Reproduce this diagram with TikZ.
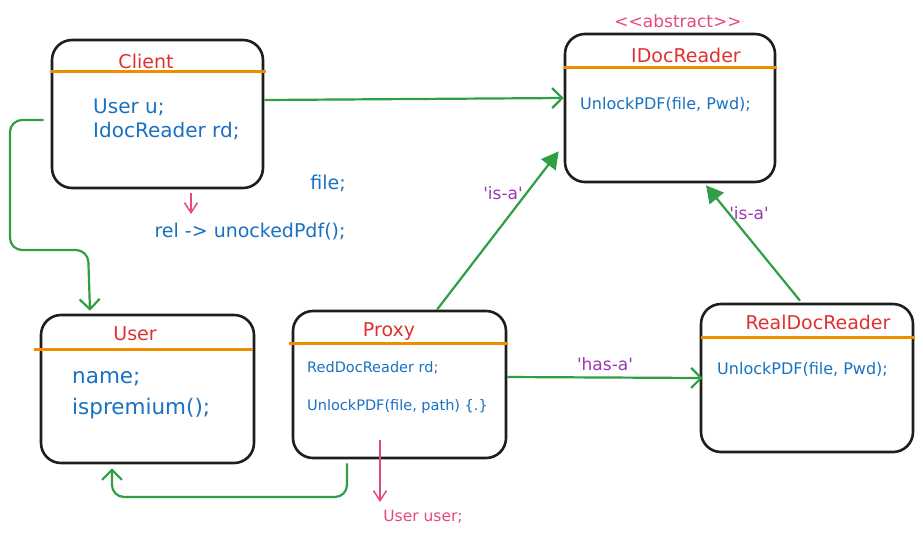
\documentclass[tikz,border=0pt]{standalone}
\usepackage{fontspec}
\setmainfont{DejaVu Sans}[Ligatures=TeXOff]
\usetikzlibrary{arrows.meta}
\definecolor{cls}{HTML}{1E1E1E}
\definecolor{ttl}{HTML}{E03131}
\definecolor{body}{HTML}{1971C2}
\definecolor{sep}{HTML}{F08C00}
\definecolor{link}{HTML}{2F9E44}
\definecolor{rel}{HTML}{9C36B5}
\definecolor{note}{HTML}{E64980}
\tikzset{
  classbox/.style={draw=cls, line width=2.6pt, rounded corners=20pt, inner sep=0pt},
  divider/.style={draw=sep, line width=3pt},
  title/.style={text=ttl, font=\fontsize{19}{20}\selectfont},
  member/.style={text=body, anchor=west, inner sep=0pt, font=\fontsize{#1}{#1}\selectfont},
  member/.default=16,
  openarrow/.style={draw=link, line width=2.2pt, -{Straight Barb[length=10pt,width=20pt,line width=2.2pt]}},
  solidarrow/.style={draw=link, line width=2.2pt, -{Triangle[length=17pt,width=18pt]}},
  bendarrow/.style={openarrow, rounded corners=12pt},
  notearrow/.style={draw=note, line width=1.5pt, -{Straight Barb[length=10pt,width=13pt,line width=1.5pt]}},
  rellabel/.style={text=rel, font=\fontsize{17}{18}\selectfont},
  notetext/.style={text=note, font=\fontsize{#1}{#1}\selectfont},
  loose/.style={text=body, font=\fontsize{19}{19}\selectfont},
}
\begin{document}
\begin{tikzpicture}[x=1pt, y=-1pt]
  \useasboundingbox[fill=white] (0,0) rectangle (923,536);

  % class boxes
  \node[classbox, minimum width=211pt, minimum height=148pt] (client) at (157.5,114) {};
  \node[classbox, minimum width=210pt, minimum height=148pt] (reader) at (670,108) {};
  \node[classbox, minimum width=213pt, minimum height=148pt] (user) at (147.5,389) {};
  \node[classbox, minimum width=213pt, minimum height=147pt] (proxy) at (399.5,384.5) {};
  \node[classbox, minimum width=212pt, minimum height=148pt] (real) at (807,378) {};

  % title dividers
  \draw[divider] ([yshift=-33pt]client.north west) -- ([xshift=2pt,yshift=-33pt]client.north east);
  \draw[divider] ([yshift=-35pt]reader.north west) -- ([xshift=1pt,yshift=-35pt]reader.north east);
  \draw[divider] ([xshift=-6pt,yshift=-36pt]user.north west) -- ([xshift=-2pt,yshift=-36pt]user.north east);
  \draw[divider] ([xshift=-3pt,yshift=-34pt]proxy.north west) -- ([xshift=1pt,yshift=-34pt]proxy.north east);
  \draw[divider] ([xshift=1pt,yshift=-35pt]real.north west) -- ([xshift=1pt,yshift=-35pt]real.north east);

  % titles
  \node[title] (clientT) at (146,61) {Client};
  \node[title] (readerT) at (686,55) {IDocReader};
  \node[title] (userT) at (135,334) {User};
  \node[title] (proxyT) at (389,332) {Proxy};
  \node[title] (realT) at (818,322) {RealDocReader};
  \node[notetext=17] (abs) at (678,21) {<<abstract>>};

  % members
  \node[member=20] (c1) at (93,107) {User u;};
  \node[member=20] (c2) at (93,131) {IdocReader rd;};
  \node[member] (r1) at (580,104) {UnlockPDF(file, Pwd);};
  \node[member=21.5] (u1) at (72,379) {name;};
  \node[member=21.5] (u2) at (72,409) {ispremium();};
  \node[member=14.5] (p1) at (307,368) {RedDocReader rd;};
  \node[member=14.5] (p2) at (307,406) {UnlockPDF(file, path) \{.\}};
  \node[member] (d1) at (717,369) {UnlockPDF(file, Pwd);};

  % loose notes
  \node[loose] (file) at (328,183) {file;};
  \node[loose] (call) at (250,232) {rel -> unockedPdf();};
  \node[notetext=15.5] (uu) at (423,517) {User user;};
  \coordinate (n1a) at (191,193);
  \coordinate (n1b) at (191,214);
  \coordinate (n2a) at (380,440);
  \coordinate (n2b) at (380,502);
  \draw[notearrow] (n1a) -- (n1b);
  \draw[notearrow] (n2a) -- (n2b);

  % associations
  \draw[openarrow] ([yshift=14pt]client.east) -- ([yshift=10pt]reader.west);
  \draw[bendarrow] ([xshift=-7pt,yshift=-6pt]client.west) -- (10,120) -- (10,250) -- (88,250) -- ([xshift=-57.5pt,yshift=3pt]user.north);
  \draw[bendarrow] ([xshift=-52.5pt,yshift=-4pt]proxy.south) -- (347,497) -- (112,497) -- ([xshift=-35.5pt,yshift=-4pt]user.south);
  \draw[openarrow] ([yshift=7.5pt]proxy.east) -- ([xshift=3pt]real.west) node[midway, above=2pt, rellabel] (hasa) {'has-a'};
  \draw[solidarrow] ([xshift=37.5pt]proxy.north) -- ([xshift=-5pt,yshift=32pt]reader.south west);
  \node[rellabel] (isa1) at (503,193) {'is-a'};
  \draw[solidarrow] ([xshift=-7pt,yshift=2pt]real.north) -- ([xshift=36pt,yshift=-2pt]reader.south);
  \node[rellabel] (isa2) at (749,213) {'is-a'};
\end{tikzpicture}
\end{document}
